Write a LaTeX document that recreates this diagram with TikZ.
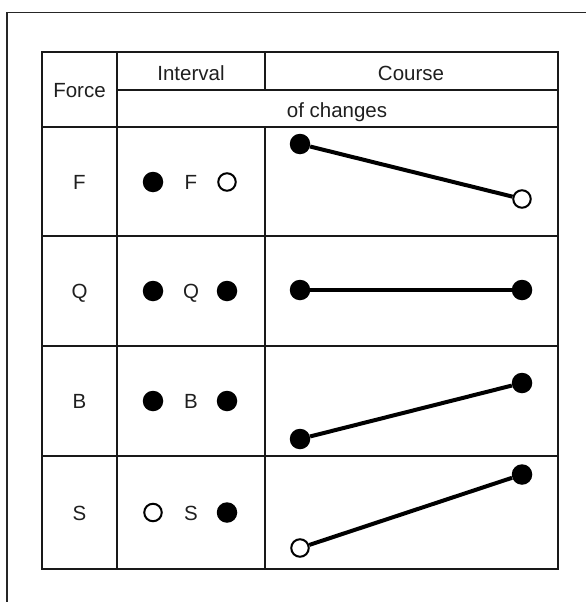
\documentclass[tikz,border=0pt]{standalone}
\usepackage{fontspec}
\setmainfont{Liberation Sans}
\begin{document}
\begin{tikzpicture}[x=1pt,y=-1pt,
  grid/.style={line width=2pt, black!90, line cap=rect},
  frame/.style={line width=1.4pt, black!85},
  lbl/.style={font=\fontsize{20.5}{24}\selectfont, inner sep=0pt, anchor=base, text=black!88},
  fdot/.style={circle, fill=black, minimum size=20.5pt, inner sep=0pt},
  odot/.style={circle, draw=black, line width=2pt, fill=white, minimum size=17.5pt, inner sep=0pt},
  link/.style={line width=4pt, black}]
\useasboundingbox (0,0) rectangle (586,602);
% outer frame (open at right and bottom)
\draw[frame] (7,602) -- (7,12.5) -- (586,12.5);
% table grid
\draw[grid] (42,52) rectangle (557.5,568.5);
\draw[grid] (117,52) -- (117,568.5);
\draw[grid] (265,52) -- (265,90);
\draw[grid] (265,127) -- (265,568.5);
\draw[grid] (117,90) -- (557.5,90);
\draw[grid] (42,127) -- (557.5,127);
\draw[grid] (42,236) -- (557.5,236);
\draw[grid] (42,346) -- (557.5,346);
\draw[grid] (42,456) -- (557.5,456);
% header texts
\node[lbl] (hforce) at (79.5,97) {Force};
\node[lbl] (hint) at (191,80) {Interval};
\node[lbl] (hcourse) at (411,80) {Course};
\node[lbl] (hchg) at (337,117) {of changes};
% force column
\node[lbl] (rF) at (79.5,189.5) {F};
\node[lbl] (rQ) at (79.5,298.5) {Q};
\node[lbl] (rB) at (79.5,408.5) {B};
\node[lbl] (rS) at (79.5,520) {S};
% interval column
\node[fdot] (iF1) at (153,182) {};
\node[lbl] (iF) at (191,189.5) {F};
\node[odot] (iF2) at (227,182) {};
\node[fdot] (iQ1) at (153,291) {};
\node[lbl] (iQ) at (191,298.5) {Q};
\node[fdot] (iQ2) at (227,291) {};
\node[fdot] (iB1) at (153,401) {};
\node[lbl] (iB) at (191,408.5) {B};
\node[fdot] (iB2) at (227,401) {};
\node[odot] (iS1) at (153,512.5) {};
\node[lbl] (iS) at (191,520) {S};
\node[fdot] (iS2) at (227,512.5) {};
% course column
\node[fdot] (cF1) at (300,144) {};
\node[odot] (cF2) at (522,199) {};
\node[fdot] (cQ1) at (300,290) {};
\node[fdot] (cQ2) at (522,290) {};
\node[fdot] (cB1) at (300,439) {};
\node[fdot] (cB2) at (522,383) {};
\node[odot] (cS1) at (300,548) {};
\node[fdot] (cS2) at (522,474.5) {};
\draw[link] (cF1) -- (cF2);
\draw[link] (cQ1) -- (cQ2);
\draw[link] (cB1) -- (cB2);
\draw[link] (cS1) -- (cS2);
\end{tikzpicture}
\end{document}
